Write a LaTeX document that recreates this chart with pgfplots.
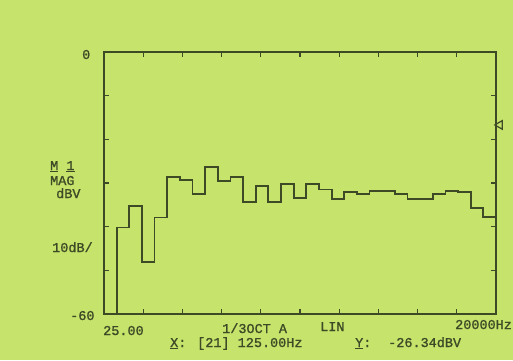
\documentclass[border=0pt]{standalone}
\usepackage{pgfplots}
\pgfplotsset{compat=1.18}
\usepackage{fontspec}
\setmainfont{Liberation Sans}
\newfontfamily\plotfont[FakeBold=1.2]{Liberation Mono}
\definecolor{bg}{RGB}{198,228,108}
\definecolor{ink}{RGB}{62,74,38}
\begin{document}
\begin{tikzpicture}[x=1bp,y=1bp]
\fill[bg] (0,0) rectangle (513,360);
\useasboundingbox (0,0) rectangle (513,360);
\begin{axis}[at={(104bp,46bp)}, anchor=south west, scale only axis,
  width=392bp, height=262bp,
  xmin=0, xmax=31, ymin=-60, ymax=0,
  xtick={3.1,6.2,9.3,12.4,15.5,18.6,21.7,24.8,27.9},
  ytick={-50,-40,-30,-20,-10},
  xticklabels={}, yticklabels={},
  major tick length=5bp,
  tick style={ink, line width=1.3bp},
  axis line style={ink, line width=1.6bp},
  clip=false]
\addplot[const plot, ink, line width=1.8bp] coordinates {
(0,-60) (1,-40.2) (2,-35.2) (3,-48.1) (4,-37.9) (5,-28.7) (6,-29.4) (7,-32.5)
(8,-26.34) (9,-29.6) (10,-28.6) (11,-34.3) (12,-30.6) (13,-34.4) (14,-30.3)
(15,-33.4) (16,-30.2) (17,-31.5) (18,-33.7) (19,-32.0) (20,-32.6) (21,-31.9)
(22,-31.9) (23,-32.5) (24,-33.7) (25,-33.7) (26,-32.6) (27,-31.8) (28,-32.1)
(29,-35.8) (30,-37.7) (31,-37.7)};
\addplot[only marks, mark=triangle, mark size=5bp,
  mark options={rotate=90, draw=ink, line width=1.2bp}] coordinates {(31.3,-16.7)};
\end{axis}
\begin{scope}[every node/.style={inner sep=0pt, anchor=base west, text=ink,
  font=\plotfont\fontsize{13.5bp}{14bp}\selectfont}]
\node at (82,301) {0};
\node at (70,40) {-60};
\node at (50,190) {\underline{M} \underline{1}};
\node at (50,175) {MAG};
\node at (56,162) {dBV};
\node at (52,108) {10dB/};
\node at (103,25) {25.00};
\node at (222,27) {1/3OCT A};
\node at (320,29) {LIN};
\node at (455,31) {20000Hz};
\node at (170,13) {\underline{X}:};
\node at (197,13) {[21] 125.00Hz};
\node at (355,13) {\underline{Y}:};
\node at (388,13) {-26.34dBV};
\end{scope}
\end{tikzpicture}
\end{document}
